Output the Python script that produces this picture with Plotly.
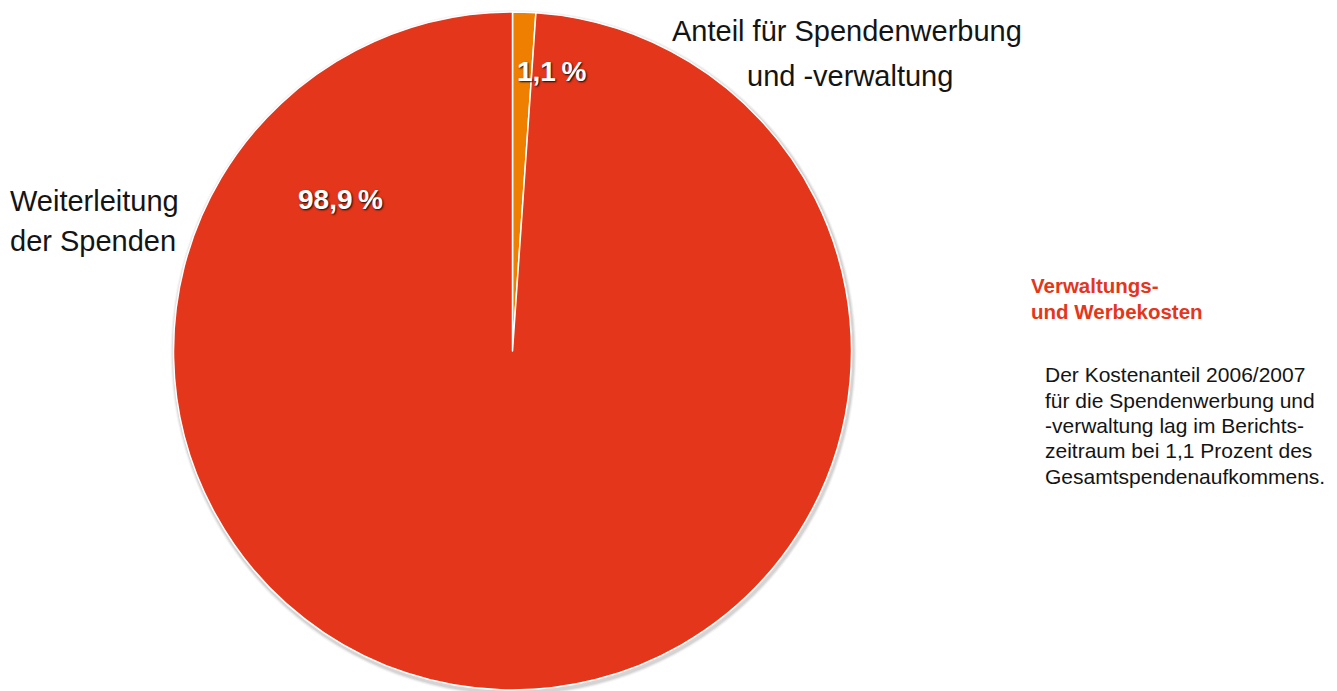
import plotly.graph_objects as go

# Data
categories = ["Anteil für Spendenwerbung und -verwaltung", "Weiterleitung der Spenden"]
values = [1.1, 98.9]
slice_colors = ["#EE7F00", "#E3361A"]
label_lines = [["Anteil für Spendenwerbung", "und -verwaltung"], ["Weiterleitung", "der Spenden"]]
side_title = ["Verwaltungs-", "und Werbekosten"]
side_body = ["Der Kostenanteil 2006/2007", "für die Spendenwerbung und",
             "-verwaltung lag im Berichts-", "zeitraum bei 1,1 Prozent des",
             "Gesamtspendenaufkommens."]

W, H = 1337, 691
OFF = 8  # page body margin
FONT = "Liberation Sans, Arial, Helvetica"

def px(x):
    return (x - OFF) / W

def py(y):
    return 1 - (y - OFF) / H

cx, cy, r = 512.5, 351, 339  # in page pixels

def fmt(v):
    return f"{v:.1f}".replace(".", ",") + "\u2009%"

fig = go.Figure()

fig.add_trace(go.Pie(
    labels=categories,
    values=values,
    sort=False,
    direction="clockwise",
    rotation=0,
    marker=dict(colors=slice_colors, line=dict(color="white", width=1.5)),
    textinfo="none",
    hoverinfo="label+percent",
    showlegend=False,
    domain=dict(x=[px(cx - r), px(cx + r)], y=[py(cy + r), py(cy - r)]),
))

# soft shadow behind pie
for off, a in [(4, 0.04), (3, 0.06), (2, 0.08)]:
    fig.add_shape(type="circle", xref="paper", yref="paper", layer="below",
                  x0=px(cx - r - off + 1), x1=px(cx + r + off + 1),
                  y0=py(cy + r + off + 2), y1=py(cy - r - off + 2),
                  fillcolor=f"rgba(0,0,0,{a})", line=dict(width=0))

def ann(x, y, text, size, color="#141414", bold=False, xanchor="center", shadow=None):
    f = dict(family=FONT, size=size, color=color)
    if shadow:
        f["shadow"] = shadow
    fig.add_annotation(x=px(x), y=py(y), xref="paper", yref="paper",
                       text=f"<b>{text}</b>" if bold else text, showarrow=False,
                       xanchor=xanchor, yanchor="middle", align=xanchor if xanchor != "center" else "center",
                       font=f)

shadow = "1px 1px 2px rgba(0,0,0,0.9)"
# percentage labels
ann(552, 72, fmt(values[0]), 28, color="white", bold=True, shadow=shadow)
ann(340, 199, fmt(values[1]), 28, color="white", bold=True, shadow=shadow)

# category labels
ann(847, 31, label_lines[0][0], 29)
ann(850, 76, label_lines[0][1], 29)
ann(8, 201, label_lines[1][0], 29, xanchor="left")
ann(8, 241, label_lines[1][1], 29, xanchor="left")

# side text
for i, t in enumerate(side_title):
    ann(1029, 285 + 26 * i, t, 20.5, color="#E3361A", bold=True, xanchor="left")
for i, t in enumerate(side_body):
    ann(1043, 375 + 25.25 * i, t, 21, xanchor="left")

fig.update_layout(
    width=W, height=H,
    margin=dict(l=0, r=0, t=0, b=0),
    paper_bgcolor="white", plot_bgcolor="white",
)

fig.write_html("out.html")
